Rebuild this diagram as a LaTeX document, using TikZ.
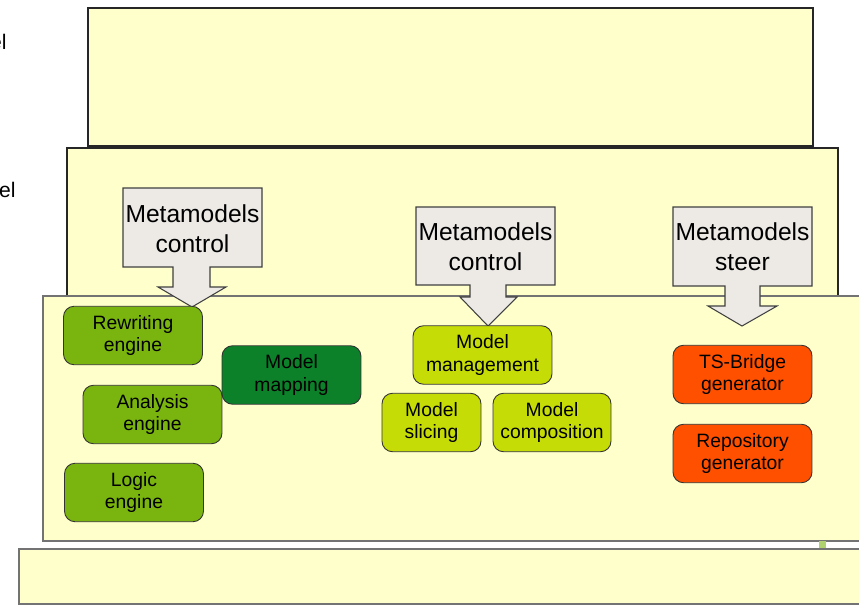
\documentclass[tikz,border=0pt]{standalone}
\usepackage{fontspec}
\setmainfont{Liberation Sans}
\usetikzlibrary{positioning}

\definecolor{layerfill}{HTML}{FFFFCC}
\definecolor{calloutfill}{HTML}{EDEAE6}
\definecolor{enginegreen}{HTML}{7AB40F}
\definecolor{mapgreen}{HTML}{0C812A}
\definecolor{mgmtlime}{HTML}{C6DC06}
\definecolor{genorange}{HTML}{FF5000}

\begin{document}
\begin{tikzpicture}[x=0.02cm,y=-0.02cm,
    layer/.style={fill=layerfill,draw=black!85,line width=0.6pt},
    lowlayer/.style={fill=layerfill,draw=black!55,line width=0.7pt},
    callout/.style={fill=calloutfill,draw=black!75,line width=0.6pt},
    calltext/.style={align=center,font=\fontsize{14}{17}\selectfont},
    box/.style={rounded corners=6pt,draw=black!80,line width=0.5pt,align=center,
        minimum width=2.78cm,minimum height=1.17cm,inner sep=1pt,
        font=\fontsize{11}{13}\selectfont},
    side/.style={font=\fontsize{12}{14}\selectfont,inner sep=0pt}]
    \useasboundingbox (0,0) rectangle (859,605);

    % side labels
    \node[side,anchor=east] (lbla) at (7,42) {el};
    \node[side,anchor=east] (lblb) at (16,190) {el};

    % layers
    \draw[layer] (88,8) rectangle (813,146);
    \draw[layer] (67,148) rectangle (838,296);
    \draw[lowlayer] (43,296) rectangle (864,541);
    \fill[enginegreen!60] (819,541) rectangle (826,549);
    \draw[lowlayer] (19,549) rectangle (864,604);

    % callout arrows
    \draw[callout] (123,188) -- (262,188) -- (262,267) -- (210,267) -- (210,287) -- (226,287)
        -- (192,307) -- (158,287) -- (173,287) -- (173,267) -- (123,267) -- cycle;
    \node[calltext] (ctrla) at (192.5,229) {Metamodels\\control};

    \draw[callout] (416,207) -- (555,207) -- (555,285) -- (506,285) -- (506,297) -- (517,297)
        -- (488,326) -- (460,297) -- (470,297) -- (470,285) -- (416,285) -- cycle;
    \node[calltext] (ctrlb) at (485.5,247) {Metamodels\\control};

    \draw[callout] (673,207) -- (812,207) -- (812,286) -- (760,286) -- (760,306) -- (777,306)
        -- (742,326) -- (708,306) -- (725,306) -- (725,286) -- (673,286) -- cycle;
    \node[calltext] (steer) at (742.5,247) {Metamodels\\steer};

    % engines
    \node[box,fill=enginegreen] (rewrite) at (133,335.5) {Rewriting\\engine};
    \node[box,fill=enginegreen] (analysis) at (152.5,414.5) {Analysis\\engine};
    \node[box,fill=enginegreen] (logic) at (134,492.5) {Logic\\engine};
    \node[box,fill=mapgreen] (mapping) at (291.5,375) {Model\\mapping};

    % model management
    \node[box,fill=mgmtlime] (mgmt) at (482.5,355) {Model\\management};
    \node[box,fill=mgmtlime,minimum width=1.98cm] (slicing) at (431.5,422.5) {Model\\slicing};
    \node[box,fill=mgmtlime,minimum width=2.36cm] (compose) at (552,422.5) {Model\\composition};

    % generators
    \node[box,fill=genorange] (tsbridge) at (742.5,374.5) {TS-Bridge\\generator};
    \node[box,fill=genorange] (repo) at (742.5,453.5) {Repository\\generator};
\end{tikzpicture}
\end{document}
